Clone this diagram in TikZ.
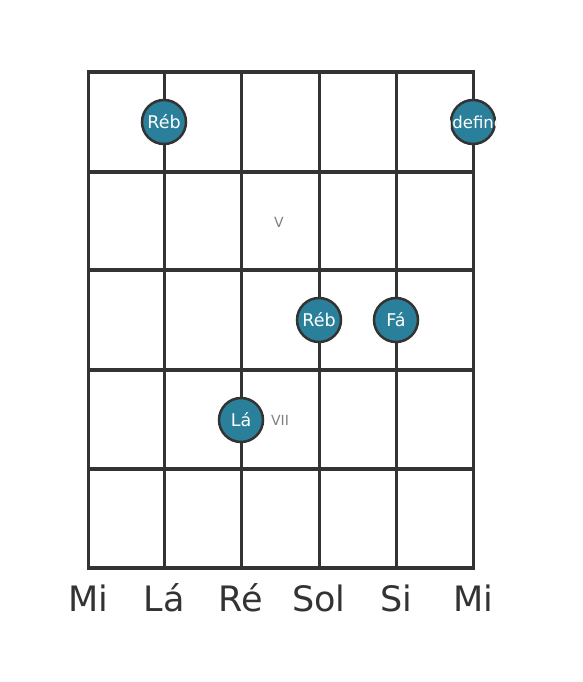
\documentclass[tikz,border=0pt]{standalone}
\usepackage{fontspec}
\setmainfont{DejaVu Sans}
\usetikzlibrary{positioning}
\definecolor{dotfill}{RGB}{42,127,155}
\definecolor{gridline}{RGB}{51,51,51}

\begin{document}
\begin{tikzpicture} [x=1pt, y=-1pt, semithick,
	note/.style ={circle, draw=gridline, line width=2.5pt, fill=dotfill, minimum size=44pt, inner sep=0pt, text=white, font=\fontsize{17.5}{17.5}\selectfont},
	strname/.style ={anchor=base, text=gridline, font=\fontsize{35}{35}\selectfont},
	fretno/.style ={text=gray, font=\fontsize{14}{14}\selectfont}]
	\useasboundingbox (0,0) rectangle (582,682);
	% frets and strings
	\foreach \y in {72,172,270,370,469,568}
		\draw[gridline, line width=4pt] (86.5,\y) -- (474.5,\y);
	\foreach \x in {88,164,241,319,396,473}
		\draw[gridline, line width=3pt] (\x,72) -- (\x,568);
	% fret numbers
	\node[fretno] (F5) at (279,222) {V};
	\node[fretno] (F7) at (280,420) {VII};
	% notes
	\node[note] (N1) at (164,122) {Réb};
	\node[note] (N2) at (473,122) {};
	\begin{scope}
		\clip (N2.center) circle (24.5);
		\node[text=white, font=\fontsize{16.5}{16.5}\selectfont] (N2t) at (N2) {undefined};
	\end{scope}
	\node[note] (N3) at (319,320) {Réb};
	\node[note] (N4) at (396,320) {Fá};
	\node[note] (N5) at (241,420) {Lá};
	% string names
	\node[strname] (S1) at (88,611) {Mi};
	\node[strname] (S2) at (164,611) {Lá};
	\node[strname] (S3) at (241,611) {Ré};
	\node[strname] (S4) at (319,611) {Sol};
	\node[strname] (S5) at (396,611) {Si};
	\node[strname] (S6) at (473,611) {Mi};
\end{tikzpicture}
\end{document}
